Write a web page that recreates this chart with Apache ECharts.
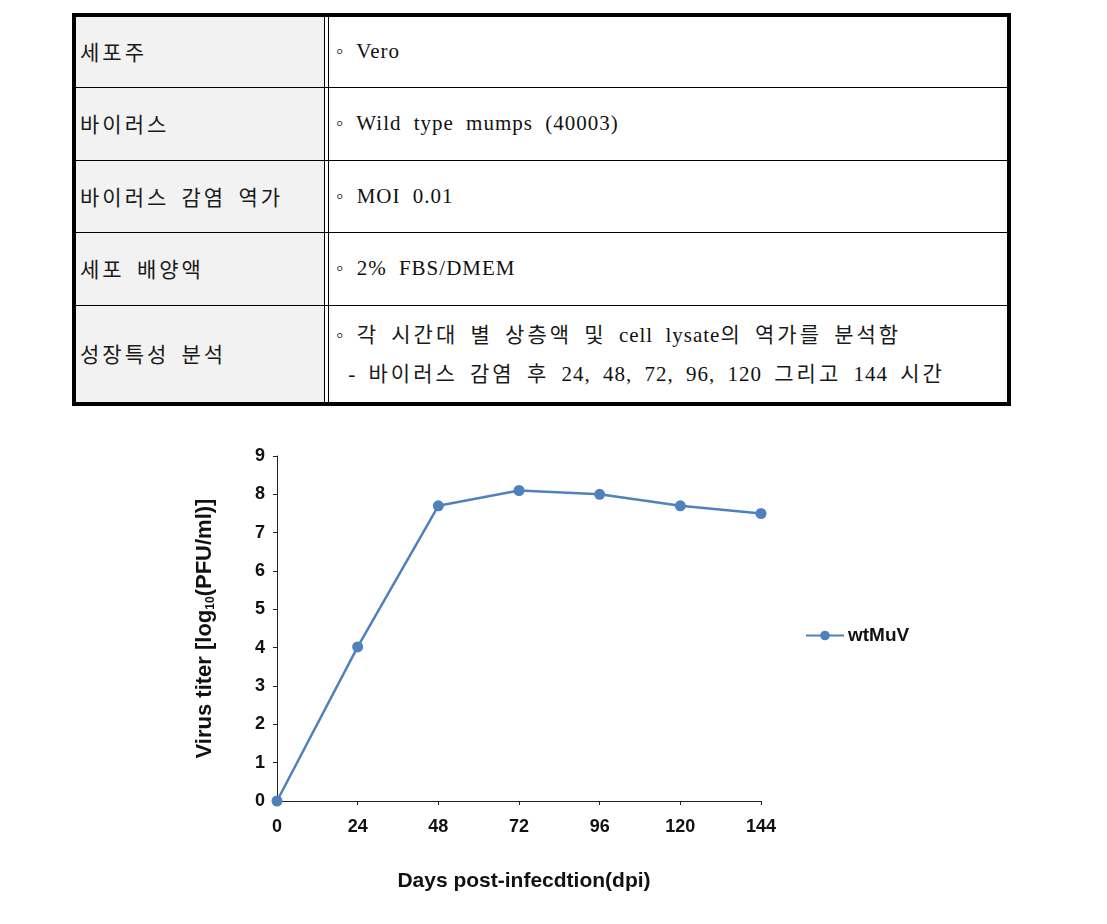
<!DOCTYPE html>
<html>
<head>
<meta charset="utf-8">
<script src="https://cdn.jsdelivr.net/npm/echarts@6/dist/echarts.min.js"></script>
<style>
html,body{margin:0;padding:0;background:#fff;width:1107px;height:924px;overflow:hidden;}
#chart{position:absolute;left:0;top:0;width:1107px;height:924px;}
#tbl{position:absolute;left:72px;top:13px;width:939px;height:393px;box-sizing:border-box;border:4px solid #000;background:#fff;z-index:2;
 font-family:"Liberation Serif","Noto Sans CJK KR",serif;font-size:21px;color:#111;}
.lc{position:absolute;left:0;width:248px;background:#f2f2f2;}
.hl{position:absolute;left:0;right:0;height:1px;background:#000;}
.vl{position:absolute;top:0;bottom:0;width:1px;background:#000;}
.t{position:absolute;white-space:pre;line-height:24px;word-spacing:6px;letter-spacing:1px;}
.ko{letter-spacing:3px;font-family:"Noto Sans CJK KR",sans-serif;color:#1a1a1a;}
</style>
</head>
<body>
<div id="chart"></div>
<div id="tbl"></div>
<script>
// ---- table content ----
const rowLabels = ["세포주", "바이러스", "바이러스 감염 역가", "세포 배양액", "성장특성 분석"];
const rowValues = [
  ["◦ Vero"],
  ["◦ Wild type mumps (40003)"],
  ["◦ MOI 0.01"],
  ["◦ 2% FBS/DMEM"],
  ["◦ 각 시간대 별 상층액 및 cell lysate의 역가를 분석함", " - 바이러스 감염 후 24, 48, 72, 96, 120 그리고 144 시간"]
];
// ---- chart data ----
const hours = [0, 24, 48, 72, 96, 120, 144];
const titer = [0, 4.02, 7.7, 8.1, 8.0, 7.7, 7.5];
const seriesName = "wtMuV";
const xTicks = [0, 24, 48, 72, 96, 120, 144];
const yTicks = [0, 1, 2, 3, 4, 5, 6, 7, 8, 9];

function fill(el, text){
  text.split(/([\uAC00-\uD7A3]+)/).forEach(part=>{
    if(!part) return;
    const s=document.createElement('span');
    if(/[\uAC00-\uD7A3]/.test(part)) s.className='ko';
    s.textContent=part; el.appendChild(s);
  });
}
// build table (layout only)
(function(){
  const t = document.getElementById('tbl');
  const rowBounds = [[0,70],[71,143],[144,215],[216,288],[289,385]];
  rowBounds.forEach((b,i)=>{
    const g = document.createElement('div'); g.className='lc';
    g.style.top=b[0]+'px'; g.style.height=(b[1]-b[0])+'px'; t.appendChild(g);
    if(i>0){const h=document.createElement('div');h.className='hl';h.style.top=(b[0]-1)+'px';t.appendChild(h);}
    const lab=document.createElement('div'); lab.className='t';
    fill(lab, rowLabels[i]);
    lab.style.left='4px';
    const mid=(b[0]+b[1])/2;
    lab.style.top=(mid-13)+'px'; t.appendChild(lab);
    const vals=rowValues[i];
    vals.forEach((v,j)=>{
      const d=document.createElement('div'); d.className='t';
      fill(d, v); d.style.left='260px';
      const off = vals.length===1 ? mid-13 : mid-13 + (j===0?-20:19);
      d.style.top=off+'px'; t.appendChild(d);
    });
  });
  [248,252].forEach(x=>{const v=document.createElement('div');v.className='vl';v.style.left=x+'px';t.appendChild(v);});
})();

const chart = echarts.init(document.getElementById('chart'), null, {renderer:'canvas'});
const FF = '"Liberation Sans", Arial, sans-serif';
const lbl = {fontFamily:FF, fontWeight:'bold', fontSize:18, color:'#111'};
chart.setOption({
  backgroundColor:'#fff',
  animation:false,
  grid:{left:277, top:456, width:484, height:345, containLabel:false},
  legend:{
    left:800, top:621, itemWidth:38, itemHeight:12, itemGap:10,
    data:[seriesName],
    textStyle:{fontFamily:FF, fontWeight:'bold', fontSize:19, color:'#111', padding:[0,0,0,-1]}
  },
  xAxis:{
    type:'value', min:0, max:144, interval:24,
    axisLine:{lineStyle:{color:'#222', width:1}},
    axisTick:{show:true, length:4, lineStyle:{color:'#222'}},
    splitLine:{show:false},
    axisLabel:Object.assign({margin:17, formatter:v=>xTicks.includes(v)?String(v):''}, lbl),
    name:'Days post-infecdtion(dpi)', nameLocation:'middle', nameGap:70,
    nameTextStyle:{fontFamily:FF, fontWeight:'bold', fontSize:21, color:'#111', padding:[0,0,0,10]}
  },
  yAxis:{
    type:'value', min:0, max:9, interval:1,
    axisLine:{show:true, lineStyle:{color:'#222', width:1}},
    axisTick:{show:true, length:4, lineStyle:{color:'#222'}},
    splitLine:{show:false},
    axisLabel:Object.assign({margin:12, formatter:v=>yTicks.includes(v)?String(v):''}, lbl),
    name:'{a|Virus titer [log}{s|10}{a|(PFU/ml)]}', nameLocation:'middle', nameGap:60, nameRotate:90,
    nameTextStyle:{
      rich:{
        a:{fontFamily:FF, fontWeight:'bold', fontSize:22, color:'#111', lineHeight:24},
        s:{fontFamily:FF, fontWeight:'bold', fontSize:12, color:'#111', verticalAlign:'bottom', lineHeight:24, padding:[9,0,0,0]}
      }
    }
  },
  series:[{
    name:seriesName, type:'line',
    data:hours.map((h,i)=>[h, titer[i]]),
    symbol:'circle', symbolSize:11,
    lineStyle:{color:'#4f81bd', width:2.5},
    itemStyle:{color:'#4f81bd'}
  }]
});
</script>
</body>
</html>
